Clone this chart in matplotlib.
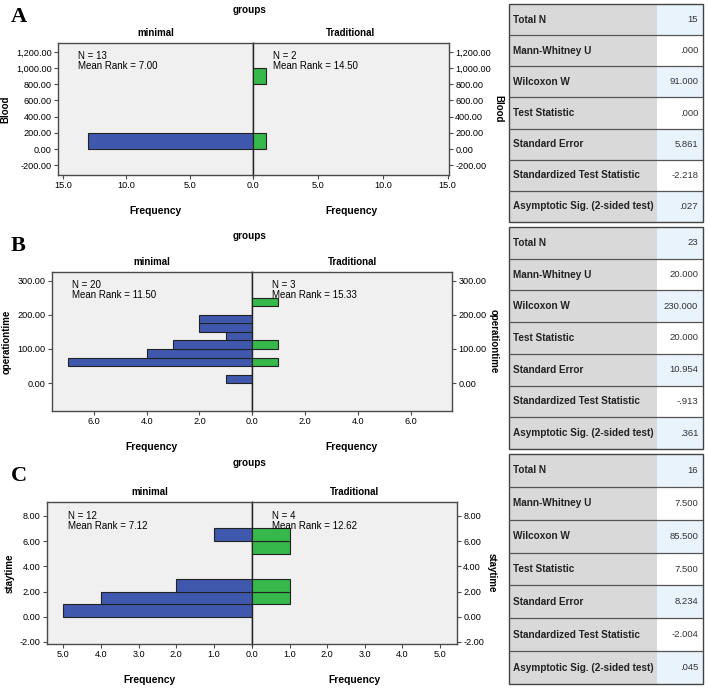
import matplotlib
matplotlib.use("Agg")
import matplotlib.pyplot as plt
from matplotlib.patches import Rectangle
from matplotlib.ticker import FuncFormatter

plt.rcParams['font.family'] = ['Liberation Sans', 'DejaVu Sans']

W, H = 708, 689

# ---- data ----
panel_letters = ["A", "B", "C"]
variables = ["Blood", "operationtime", "staytime"]
groups = ["minimal", "Traditional"]

# histogram bins (lower edge) and counts
blood_bin_w = 200
blood_min_bins = [0]
blood_min_counts = [13]
blood_trad_bins = [0, 800]
blood_trad_counts = [1, 1]

optime_bin_w = 25
optime_min_bins = [0, 50, 75, 100, 125, 150, 175]
optime_min_counts = [1, 7, 4, 3, 1, 2, 2]
optime_trad_bins = [50, 100, 225]
optime_trad_counts = [1, 1, 1]

stay_bin_w = 1
stay_min_bins = [0, 1, 2, 6]
stay_min_counts = [5, 4, 2, 1]
stay_trad_bins = [1, 2, 5, 6]
stay_trad_counts = [1, 1, 1, 1]

n_min = [13, 20, 12]
n_trad = [2, 3, 4]
rank_min = ["7.00", "11.50", "7.12"]
rank_trad = ["14.50", "15.33", "12.62"]

stat_labels = ["Total N", "Mann-Whitney U", "Wilcoxon W", "Test Statistic",
               "Standard Error", "Standardized Test Statistic",
               "Asymptotic Sig. (2-sided test)"]
stats_A = ["15", ".000", "91.000", ".000", "5.861", "-2.218", ".027"]
stats_B = ["23", "20.000", "230.000", "20.000", "10.954", "-.913", ".361"]
stats_C = ["16", "7.500", "85.500", "7.500", "8.234", "-2.004", ".045"]

BLUE = "#3f58ad"
GREEN = "#36b84a"
BG = "#f0f0f0"
FRAME = "#4a4a4a"


def box(l, t, r, b):
    return [l / W, 1 - b / H, (r - l) / W, (b - t) / H]


fig = plt.figure(figsize=(W / 100, H / 100), dpi=100)
fig.patch.set_facecolor("white")

panels = [
    dict(px=(58, 253, 449, 43, 175), bw=blood_bin_w,
         mb=blood_min_bins, mc=blood_min_counts, tb=blood_trad_bins, tc=blood_trad_counts,
         xl=(15.4, 15.1), xt=[0, 5, 10, 15], yl=(-320, 1310),
         yt=list(range(-200, 1201, 200)), letter_y=22, groups_y=10),
    dict(px=(52, 252, 452, 272, 411), bw=optime_bin_w,
         mb=optime_min_bins, mc=optime_min_counts, tb=optime_trad_bins, tc=optime_trad_counts,
         xl=(7.6, 7.55), xt=[0, 2, 4, 6], yl=(-82, 326),
         yt=[0, 100, 200, 300], letter_y=251, groups_y=236),
    dict(px=(47, 252, 457, 502, 644), bw=stay_bin_w,
         mb=stay_min_bins, mc=stay_min_counts, tb=stay_trad_bins, tc=stay_trad_counts,
         xl=(5.42, 5.45), xt=[0, 1, 2, 3, 4, 5], yl=(-2.16, 9.1),
         yt=[-2, 0, 2, 4, 6, 8], letter_y=481, groups_y=463),
]

for i, p in enumerate(panels):
    l, c, r, t, b = p["px"]
    axl = fig.add_axes(box(l, t, c, b))
    axr = fig.add_axes(box(c, t, r, b), sharey=axl)

    axl.barh(p["mb"], p["mc"], height=p["bw"], align="edge", color=BLUE,
             edgecolor="#222222", linewidth=0.8, zorder=3)
    axr.barh(p["tb"], p["tc"], height=p["bw"], align="edge", color=GREEN,
             edgecolor="#222222", linewidth=0.8, zorder=3)

    axl.set_xlim(p["xl"][0], 0)
    axr.set_xlim(0, p["xl"][1])
    axl.set_ylim(*p["yl"])

    for ax in (axl, axr):
        ax.set_facecolor(BG)
        for s in ax.spines.values():
            s.set_color(FRAME)
            s.set_linewidth(1.0)
        ax.set_xticks(p["xt"])
        ax.tick_params(axis="both", labelsize=6.6, length=3, width=0.8,
                       color=FRAME, pad=1.5)
        ax.set_xlabel("Frequency", fontsize=7.4, fontweight="bold", labelpad=11)
    axl.xaxis.set_major_formatter(FuncFormatter(lambda v, pos: f"{v:.1f}"))
    # the shared 0.0 is labelled once only
    axr.xaxis.set_major_formatter(
        FuncFormatter(lambda v, pos: "" if v == 0 else f"{v:.1f}"))
    axl.spines["right"].set_color("#222222")
    axr.spines["left"].set_color("#222222")
    axl.set_yticks(p["yt"])
    axl.yaxis.set_major_formatter(FuncFormatter(lambda v, pos: f"{v:,.2f}"))
    axl.yaxis.tick_left()
    axr.yaxis.tick_right()
    axr.yaxis.set_label_position("right")
    axr.tick_params(axis="y", labelright=True, labelleft=False)

    axl.set_title(groups[0], fontsize=7, fontweight="bold", pad=5)
    axr.set_title(groups[1], fontsize=7, fontweight="bold", pad=5)
    axl.set_ylabel(variables[i], fontsize=7, fontweight="bold")
    axr.set_ylabel(variables[i], fontsize=7, fontweight="bold", rotation=270,
                   labelpad=9)

    axl.text(0.10, 0.94, f"N = {n_min[i]}\nMean Rank = {rank_min[i]}",
             transform=axl.transAxes, fontsize=7, va="top", ha="left",
             linespacing=1.0, zorder=2)
    axr.text(0.10, 0.94, f"N = {n_trad[i]}\nMean Rank = {rank_trad[i]}",
             transform=axr.transAxes, fontsize=7, va="top", ha="left",
             linespacing=1.0, zorder=4)

    fig.text(250 / W, 1 - p["groups_y"] / H, "groups", fontsize=7.2,
             fontweight="bold", ha="center", va="center")
    fig.text(11 / W, 1 - p["letter_y"] / H, panel_letters[i],
             family="Liberation Serif", fontsize=16, fontweight="bold",
             ha="left", va="baseline")

# ---- statistics tables ----
tables = [(stats_A, 4, 222), (stats_B, 227, 449), (stats_C, 454, 684)]
split = 0.763
for vals, t, b in tables:
    ax = fig.add_axes(box(509, t, 703, b))
    ax.set_xlim(0, 1)
    ax.set_ylim(len(stat_labels), 0)
    ax.axis("off")
    for j, (lab, val) in enumerate(zip(stat_labels, vals)):
        ax.add_patch(Rectangle((0, j), split, 1, facecolor="#d9d9d9",
                               edgecolor="none"))
        vcol = "#e9f3fc" if j % 2 == 0 else "white"
        ax.add_patch(Rectangle((split, j), 1 - split, 1, facecolor=vcol,
                               edgecolor="none"))
        ax.text(0.022, j + 0.5, lab, fontsize=7.2, fontweight="bold",
                va="center", ha="left", color="#222222")
        ax.text(0.975, j + 0.5, val, fontsize=6.8, va="center", ha="right",
                color="#333333")
        if j > 0:
            ax.plot([0, 1], [j, j], color="#555555", lw=0.9)
    ax.add_patch(Rectangle((0, 0), 1, len(stat_labels), facecolor="none",
                           edgecolor="#444444", lw=1.0, clip_on=False))

fig.savefig("out.png", dpi=100)
